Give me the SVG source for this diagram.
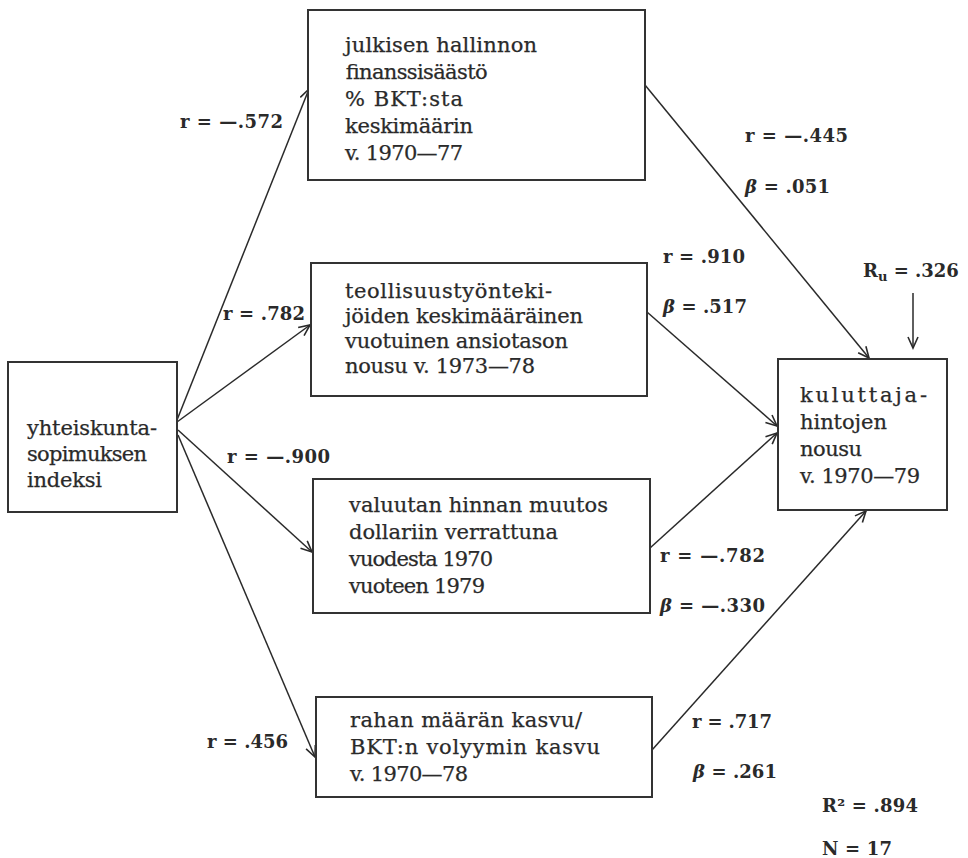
<svg xmlns="http://www.w3.org/2000/svg" width="968" height="858" viewBox="0 0 968 858">
<defs>
<marker id="ah" markerWidth="14" markerHeight="14" refX="12" refY="6" orient="auto" markerUnits="userSpaceOnUse">
<path d="M1,1 L12,6 L1,11" fill="none" stroke="#2a2a2a" stroke-width="1.6"/>
</marker>
<style>
.box{fill:#fff;stroke:#333;stroke-width:2}
.t{font-family:"DejaVu Serif","Liberation Serif",serif;font-size:21px;fill:#2a2a2a;stroke:#2a2a2a;stroke-width:0.25}
.l{font-family:"DejaVu Serif","Liberation Serif",serif;font-size:18px;font-weight:bold;fill:#2a2a2a}
.c{fill:none;stroke:#2a2a2a;stroke-width:1.5;marker-end:url(#ah)}
.b{font-style:italic}
</style>
</defs>
<rect width="968" height="858" fill="#fff"/>
<g id="connectors">
<line class="c" x1="177" y1="420" x2="309" y2="89"/>
<line class="c" x1="177" y1="422" x2="310" y2="325"/>
<line class="c" x1="178" y1="430" x2="312" y2="552"/>
<line class="c" x1="178" y1="435" x2="315" y2="757"/>
<line class="c" x1="645" y1="85" x2="869" y2="358"/>
<line class="c" x1="647" y1="312" x2="777" y2="426"/>
<line class="c" x1="650" y1="548" x2="777" y2="433"/>
<line class="c" x1="652" y1="750" x2="866" y2="511"/>
<line class="c" x1="913" y1="293" x2="913" y2="348"/>
</g>
<g id="n-yhteiskunta">
<rect class="box" x="8" y="362" width="169" height="150"/>
<text class="t" x="27" y="435" textLength="130">yhteiskunta-</text>
<text class="t" x="27" y="461" textLength="120">sopimuksen</text>
<text class="t" x="27" y="487" textLength="75">indeksi</text>
</g>
<g id="n-julkisen">
<rect class="box" x="308" y="10" width="337" height="170"/>
<text class="t" x="345" y="52" textLength="192">julkisen hallinnon</text>
<text class="t" x="345" y="79" textLength="142">finanssisäästö</text>
<text class="t" x="345" y="106" textLength="118">% BKT:sta</text>
<text class="t" x="345" y="133" textLength="128">keskimäärin</text>
<text class="t" x="345" y="160" textLength="118">v. 1970—77</text>
</g>
<g id="n-teollisuus">
<rect class="box" x="311" y="263" width="336" height="133"/>
<text class="t" x="345" y="298" textLength="207">teollisuustyönteki-</text>
<text class="t" x="345" y="323" textLength="238">jöiden keskimääräinen</text>
<text class="t" x="345" y="348" textLength="223">vuotuinen ansiotason</text>
<text class="t" x="345" y="373" textLength="190">nousu v. 1973—78</text>
</g>
<g id="n-valuutan">
<rect class="box" x="313" y="479" width="337" height="134"/>
<text class="t" x="349" y="512" textLength="259">valuutan hinnan muutos</text>
<text class="t" x="349" y="539" textLength="209">dollariin verrattuna</text>
<text class="t" x="349" y="566" textLength="144">vuodesta 1970</text>
<text class="t" x="349" y="593" textLength="136">vuoteen 1979</text>
</g>
<g id="n-rahan">
<rect class="box" x="316" y="697" width="336" height="100"/>
<text class="t" x="350" y="727" textLength="232">rahan määrän kasvu/</text>
<text class="t" x="350" y="754" textLength="250">BKT:n volyymin kasvu</text>
<text class="t" x="350" y="781" textLength="118">v. 1970—78</text>
</g>
<g id="n-kuluttaja">
<rect class="box" x="778" y="359" width="169" height="151"/>
<text class="t" x="800" y="402" textLength="127">kuluttaja-</text>
<text class="t" x="800" y="429" textLength="87">hintojen</text>
<text class="t" x="800" y="456" textLength="62">nousu</text>
<text class="t" x="800" y="483" textLength="120">v. 1970—79</text>
</g>
<g id="labels">
<text class="l" x="180" y="128" textLength="103">r = —.572</text>
<text class="l" x="223" y="320" textLength="82">r = .782</text>
<text class="l" x="227" y="463" textLength="103">r = —.900</text>
<text class="l" x="207" y="748" textLength="81">r = .456</text>
<text class="l" x="745" y="142" textLength="103">r = —.445</text>
<text class="l" x="745" y="193" textLength="85"><tspan class="b">β</tspan> = .051</text>
<text class="l" x="663" y="263" textLength="82">r = .910</text>
<text class="l" x="663" y="313" textLength="84"><tspan class="b">β</tspan> = .517</text>
<text class="l" x="863" y="277">R<tspan font-size="13" dy="4">u</tspan><tspan dy="-4"> = .326</tspan></text>
<text class="l" x="660" y="562" textLength="105">r = —.782</text>
<text class="l" x="660" y="612" textLength="105"><tspan class="b">β</tspan> = —.330</text>
<text class="l" x="692" y="728" textLength="80">r = .717</text>
<text class="l" x="693" y="778" textLength="84"><tspan class="b">β</tspan> = .261</text>
<text class="l" x="822" y="812" textLength="96">R² = .894</text>
<text class="l" x="822" y="855" textLength="70">N = 17</text>
</g>
</svg>
